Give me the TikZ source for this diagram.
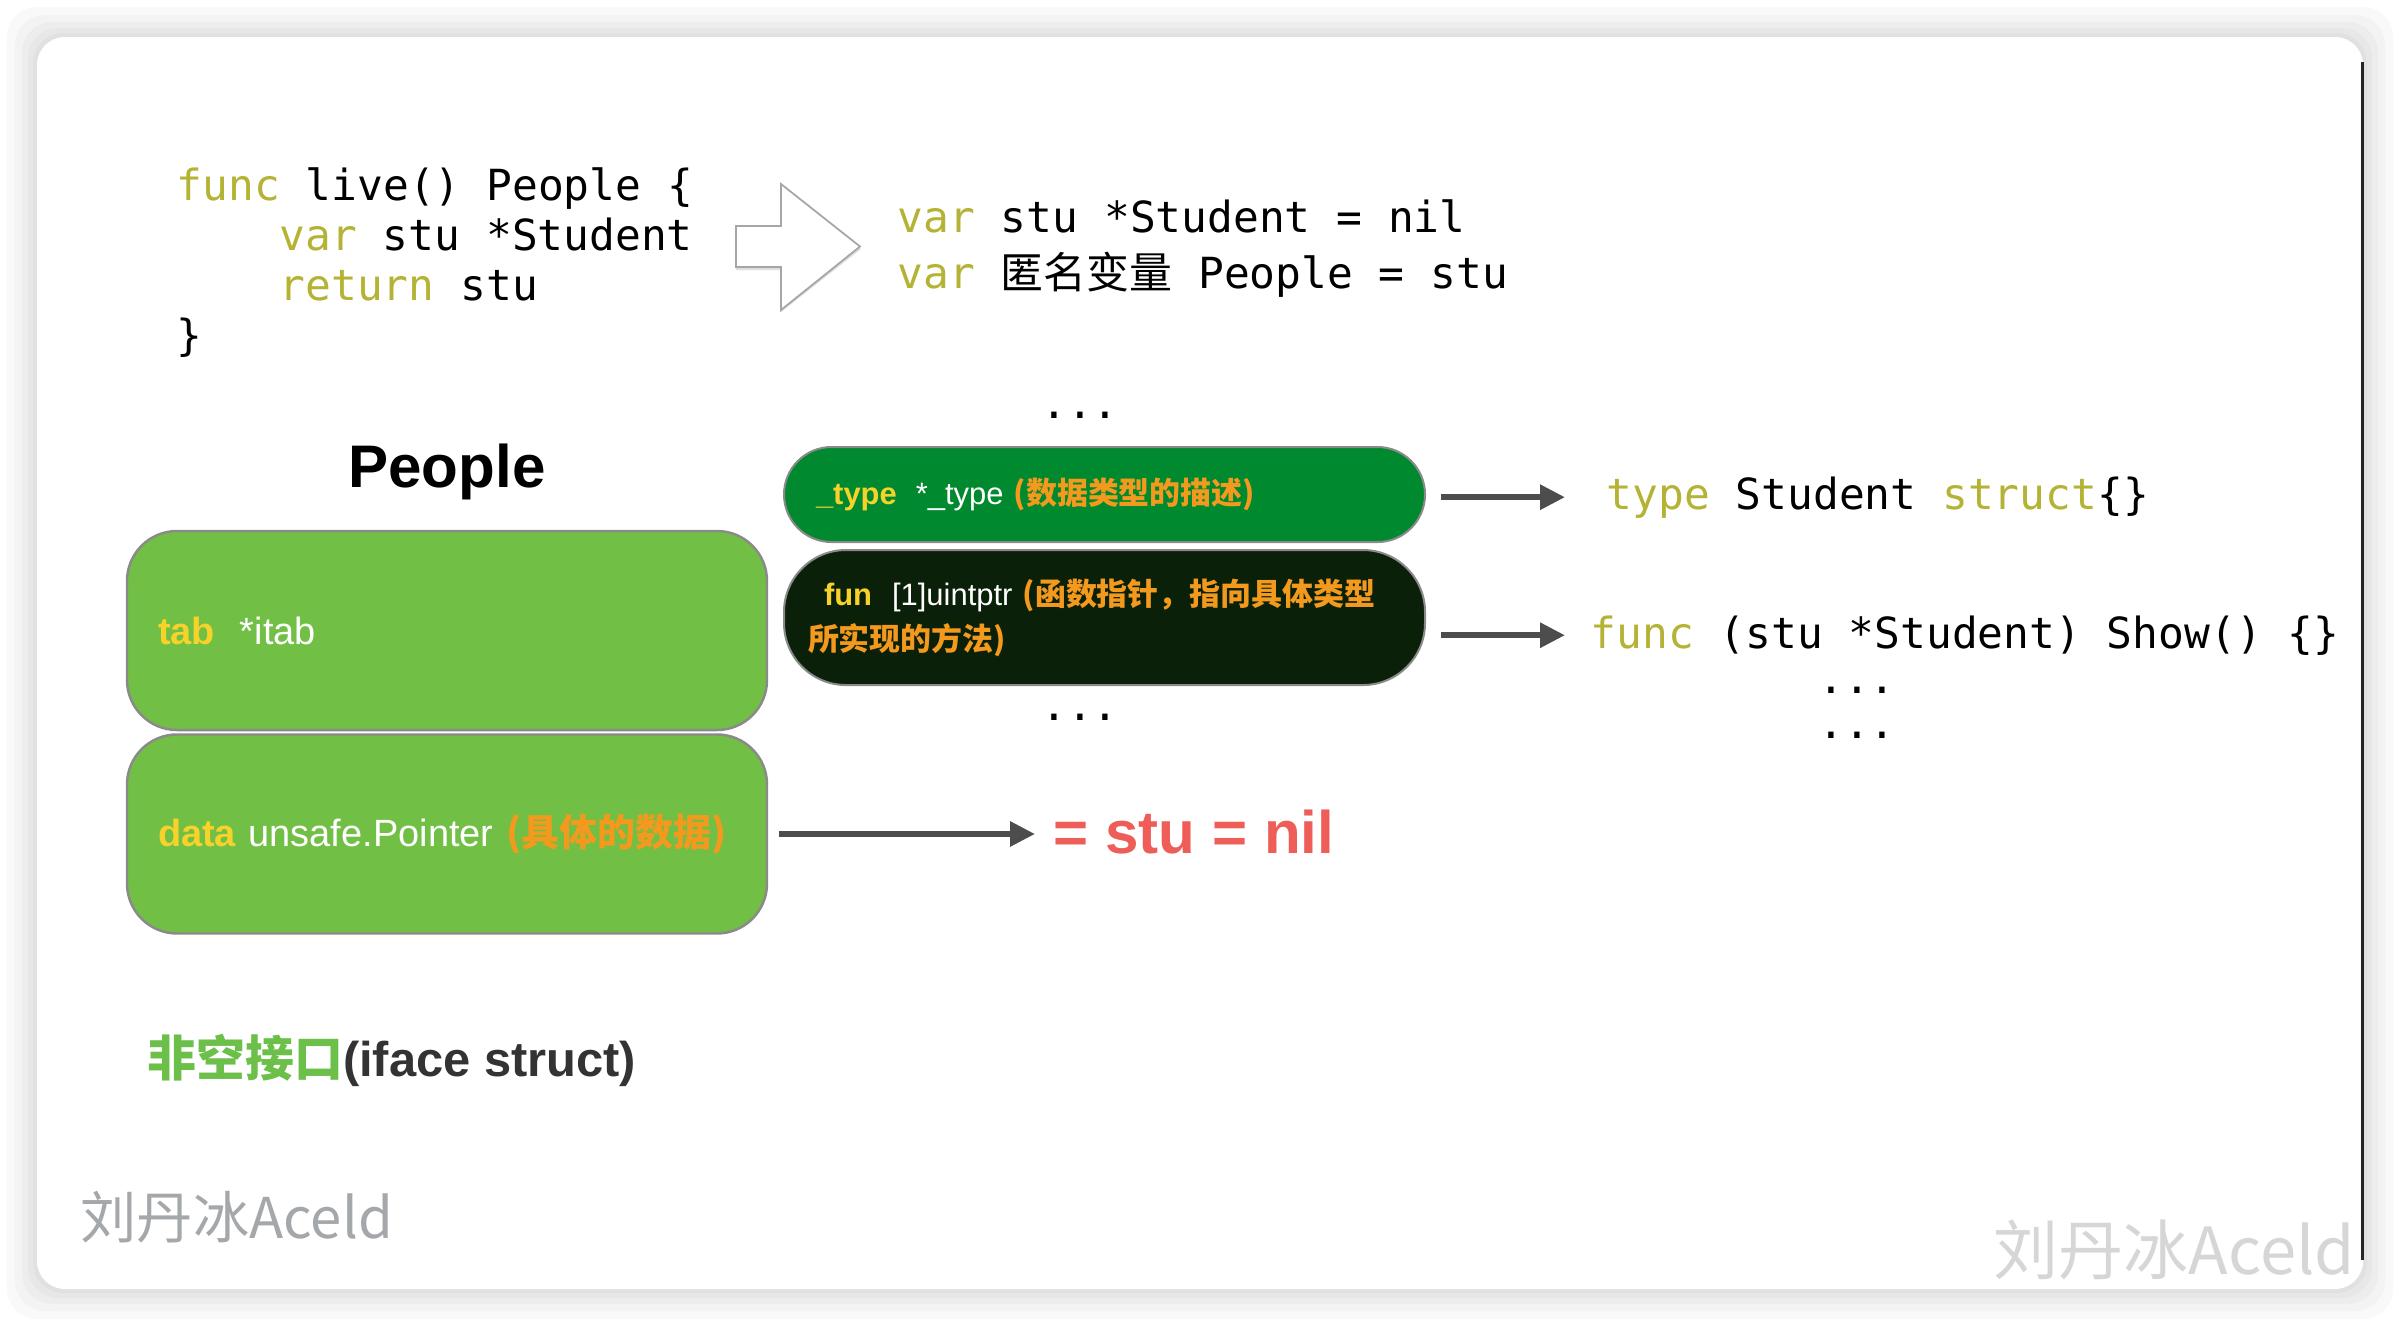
\documentclass[tikz,border=0pt]{standalone}
\usepackage{fontspec}
\setmainfont{Liberation Sans}
\setmonofont{DejaVu Sans Mono}
\newfontfamily\cjk{Noto Sans CJK SC}
\usetikzlibrary{arrows.meta, positioning}

\definecolor{kwcol}{HTML}{B5B335}
\definecolor{yel}{HTML}{F6D22B}
\definecolor{orng}{HTML}{F39A1E}
\definecolor{lgreen}{HTML}{71BF44}
\definecolor{dgreen}{HTML}{00892F}
\definecolor{dkgreen}{HTML}{0B2008}
\definecolor{slotgray}{HTML}{8A8A8A}
\definecolor{arrgray}{HTML}{4D4D4D}
\definecolor{nilred}{HTML}{EE5D58}
\definecolor{ifgreen}{HTML}{6CC04A}
\definecolor{txtdark}{HTML}{333333}
\definecolor{wmgray}{HTML}{A5A8AA}
\definecolor{wmlight}{HTML}{D6D6D6}

\newcommand{\kw}[1]{\textcolor{kwcol}{#1}}

\begin{document}
\begin{tikzpicture}[
    code/.style={font=\fontsize{12.2}{14.2}\selectfont\ttfamily, inner sep=0pt, anchor=base west},
    slot/.style={
        draw=slotgray, line width=0.7pt, fill=lgreen, rounded corners=0.5cm,
        minimum width=6.4cm, minimum height=1.99cm, text width=5.78cm,
        inner xsep=0.31cm, inner ysep=0pt, align=left,
        font=\fontsize{10.8}{13}\selectfont
    },
    pill/.style={
        draw=slotgray, line width=0.57pt,
        minimum width=6.41cm, text width=5.93cm,
        inner xsep=0.24cm, inner ysep=0pt, align=left,
        font=\fontsize{8.8}{12.8}\selectfont
    },
    arr/.style={draw=arrgray, line width=0.06cm, -{Triangle[length=0.25cm, width=0.24cm]}}
]

% page and card
\useasboundingbox (0,0) rectangle (24,-13.24);
\fill[white] (0,0) rectangle (24,-13.24);
\foreach \d in {0.30,0.22,0.15,0.09,0.04}
    \fill[black, opacity=0.025, rounded corners=0.3cm] (0.37-\d,-0.37+\d) rectangle (23.63+\d,-12.89-\d);
\fill[white, rounded corners=0.28cm] (0.37,-0.37) rectangle (23.63,-12.89);
\draw[black!85, line width=0.03cm] (23.62,-0.62) -- (23.62,-12.60);

% source code and hollow arrow
\node[code] (live1) at (1.76,-2.00) {\kw{func} live() People \{};
\node[code] (live2) at (2.79,-2.50) {\kw{var} stu *Student};
\node[code] (live3) at (2.79,-3.00) {\kw{return} stu};
\node[code] (live4) at (1.76,-3.50) {\}};

\fill[gray!25] (7.36,-2.28) -- (7.81,-2.28) -- (7.81,-1.86) -- (8.61,-2.49) -- (7.81,-3.12) -- (7.81,-2.70) -- (7.36,-2.70) -- cycle;
\draw[gray!70, fill=white, line width=0.5pt] (7.36,-2.26) -- (7.81,-2.26) -- (7.81,-1.84) -- (8.60,-2.465) -- (7.81,-3.10) -- (7.81,-2.67) -- (7.36,-2.67) -- cycle;

\node[code] (assign1) at (8.97,-2.32) {\kw{var} stu *Student = nil};
\node[code] (assign2) at (8.97,-2.88) {\kw{var} {\cjk 匿名变量} People = stu};

% iface layout
\node[font=\fontsize{17.1}{20}\selectfont\bfseries, anchor=base, inner sep=0pt] (title) at (4.47,-4.87) {People};

\node[slot] (tabslot) at (4.47,-6.305) {{\color{yel}\bfseries tab}\hspace{0.25cm}{\color{white}*itab}};
\node[slot, below=0.02cm of tabslot] (dataslot) {{\color{yel}\bfseries data} {\color{white}unsafe.Pointer} {\color{orng}\cjk\bfseries (具体的数据)}};

\node[code, anchor=base] (dotsup) at (10.80,-4.18) {...};
\node[pill, fill=dgreen, minimum height=0.95cm, rounded corners=0.475cm] (typepill) at (11.045,-4.945)
    {\hspace*{0.08cm}{\color{yel}\bfseries \_type}\hspace{0.19cm}{\color{white}*\_type} {\color{orng}\cjk\bfseries (数据类型的描述)}};
\node[pill, fill=dkgreen, minimum height=1.35cm, rounded corners=0.62cm, below=0.06cm of typepill] (funpill)
    {\hspace*{0.16cm}{\color{yel}\bfseries fun}\hspace{0.2cm}{\color{white}[1]uintptr} {\color{orng}\cjk\bfseries (函数指针，指向具体类型}\\{\color{orng}\cjk\bfseries 所实现的方法)}};
\node[code, anchor=base] (dotsdown) at (10.80,-7.20) {...};

\node[code] (typedef) at (16.06,-5.09) {\kw{type} Student \kw{struct}\{\}};
\node[code] (funcdef) at (15.90,-6.48) {\kw{func} (stu *Student) Show() \{\}};
\node[code, anchor=base] (more1) at (18.57,-6.93) {...};
\node[code, anchor=base] (more2) at (18.57,-7.38) {...};

\node[font=\fontsize{17.1}{20}\selectfont\bfseries, text=nilred, anchor=base west, inner sep=0pt] (nilval) at (10.53,-8.53) {= stu = nil};

\draw[arr, shorten <=0.15cm, shorten >=0.41cm] (typepill.east |- typedef.west) -- (typedef.west);
\draw[arr, shorten <=0.15cm, shorten >=0.25cm] (funpill.east |- funcdef.west) -- (funcdef.west);
\draw[arr, shorten <=0.11cm, shorten >=0.18cm] (dataslot.east) -- (dataslot.east -| nilval.west);

% captions
\node[font=\fontsize{13.9}{16}\selectfont, anchor=base west, inner sep=0pt] (caption) at (1.47,-10.76)
    {{\cjk\bfseries\color{ifgreen}非空接口}{\bfseries\color{txtdark}(iface struct)}};
\node[font=\cjk\fontsize{16}{18}\selectfont, text=wmgray, anchor=west, inner sep=0pt] (sign) at (0.80,-12.17) {刘丹冰Aceld};
\node[font=\cjk\fontsize{18.5}{20}\selectfont, text=wmlight, anchor=west, inner sep=0pt] (mark) at (19.93,-12.50) {刘丹冰Aceld};

\end{tikzpicture}
\end{document}
